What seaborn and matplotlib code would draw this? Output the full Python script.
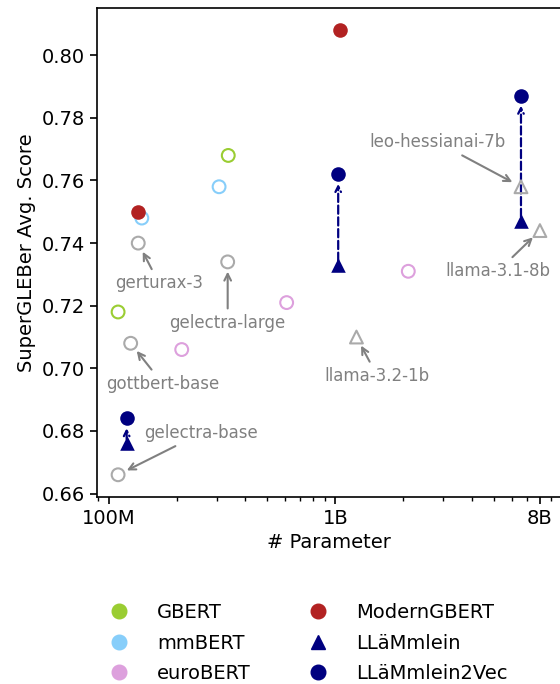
import numpy as np
import pandas as pd
import seaborn as sns
import matplotlib.pyplot as plt
from matplotlib.lines import Line2D
from matplotlib.ticker import FixedLocator, LogLocator, NullFormatter

# model sizes (parameters) and SuperGLEBer scores
gbert_params = [110e6, 337e6]
gbert_score = [0.718, 0.768]

mmbert_params = [140e6, 307e6]
mmbert_score = [0.748, 0.758]

eurobert_params = [210e6, 610e6, 2.1e9]
eurobert_score = [0.706, 0.721, 0.731]

moderngbert_params = [134e6, 1.05e9]
moderngbert_score = [0.750, 0.808]

llammlein_params = [120e6, 1.03e9, 6.6e9]
llammlein_score = [0.676, 0.733, 0.747]
llammlein2vec_score = [0.684, 0.762, 0.787]

baseline_names = ['gerturax-3', 'gottbert-base', 'gelectra-base', 'gelectra-large',
                  'llama-3.2-1b', 'llama-3.1-8b', 'leo-hessianai-7b']
baseline_params = [135e6, 125e6, 110e6, 335e6, 1.24e9, 8.0e9, 6.6e9]
baseline_score = [0.740, 0.708, 0.666, 0.734, 0.710, 0.744, 0.758]
baseline_marker = ['o', 'o', 'o', 'o', '^', '^', '^']
# label offsets (points) relative to the point
baseline_offset = [(15, -29), (23, -29), (60, 30), (0, -44),
                   (15, -28), (-30, -29), (-60, 32)]

x_ticks = [1e8, 1e9, 8e9]
x_ticklabels = ['100M', '1B', '8B']

GREEN = '#9acd32'
SKY = '#87cefa'
PLUM = '#dda0dd'
RED = '#b22222'
NAVY = '#000080'
GRAY = '#aaaaaa'
TXT = '#808080'

plt.rcParams['font.family'] = 'DejaVu Sans'
fig = plt.figure(figsize=(5.6, 6.84), dpi=100)
ax = fig.add_axes([97 / 560, 1 - 497 / 684, 464 / 560, 489 / 684])

def open_pts(x, y, color, marker='o'):
    sns.scatterplot(x=x, y=y, ax=ax, color=color, marker=marker, s=85,
                    facecolor='none', edgecolor=color, linewidth=1.5, zorder=3)

open_pts(gbert_params, gbert_score, GREEN)
open_pts(mmbert_params, mmbert_score, SKY)
open_pts(eurobert_params, eurobert_score, PLUM)

# baselines in gray
for name, xp, yp, mk, off in zip(baseline_names, baseline_params, baseline_score,
                                 baseline_marker, baseline_offset):
    open_pts([xp], [yp], GRAY, marker=mk)
    ax.annotate(name, xy=(xp, yp), xytext=off, textcoords='offset points',
                ha='center', va='center', fontsize=12, color=TXT,
                arrowprops=dict(arrowstyle='->', color=TXT, lw=1.5,
                                shrinkA=2, shrinkB=7))

sns.scatterplot(x=moderngbert_params, y=moderngbert_score, ax=ax, color=RED,
                s=110, linewidth=0, zorder=4)
sns.scatterplot(x=llammlein_params, y=llammlein_score, ax=ax, color=NAVY,
                marker='^', s=110, linewidth=0, zorder=4)
sns.scatterplot(x=llammlein_params, y=llammlein2vec_score, ax=ax, color=NAVY,
                s=110, linewidth=0, zorder=4)

# dashed arrows LLäMmlein -> LLäMmlein2Vec
for xp, y0, y1 in zip(llammlein_params, llammlein_score, llammlein2vec_score):
    ax.annotate('', xy=(xp, y1), xytext=(xp, y0),
                arrowprops=dict(arrowstyle='->', color=NAVY, lw=1.6,
                                linestyle='--', shrinkA=3, shrinkB=7),
                zorder=2)

ax.set_xscale('log')
ax.margins(x=0.05, y=0.05)
ax.xaxis.set_major_locator(FixedLocator(x_ticks))
ax.set_xticklabels(x_ticklabels)
ax.xaxis.set_minor_locator(LogLocator(base=10, subs=np.arange(2, 10)))
ax.xaxis.set_minor_formatter(NullFormatter())
ax.set_yticks(np.arange(0.66, 0.805, 0.02))
ax.tick_params(labelsize=14, width=1.2, length=5)
ax.tick_params(which='minor', width=1.0, length=3)
for sp in ax.spines.values():
    sp.set_linewidth(1.2)
ax.spines['right'].set_visible(False)

ax.set_xlabel('# Parameter', fontsize=14)
ax.set_ylabel('SuperGLEBer Avg. Score', fontsize=14)

handles = [
    Line2D([], [], ls='', marker='o', color=GREEN, ms=10.5),
    Line2D([], [], ls='', marker='o', color=SKY, ms=10.5),
    Line2D([], [], ls='', marker='o', color=PLUM, ms=10.5),
    Line2D([], [], ls='', marker='o', color=RED, ms=10.5),
    Line2D([], [], ls='', marker='^', color=NAVY, ms=10.5),
    Line2D([], [], ls='', marker='o', color=NAVY, ms=10.5),
]
labels = ['GBERT', 'mmBERT', 'euroBERT', 'ModernGBERT', 'LLäMmlein', 'LLäMmlein2Vec']
fig.legend(handles, labels, loc='upper left', bbox_to_anchor=(0.164, 0.130),
           ncol=2, frameon=False, fontsize=14, handletextpad=0.95,
           columnspacing=2.45, labelspacing=0.6, borderaxespad=0)

fig.savefig('out.png', dpi=100)
